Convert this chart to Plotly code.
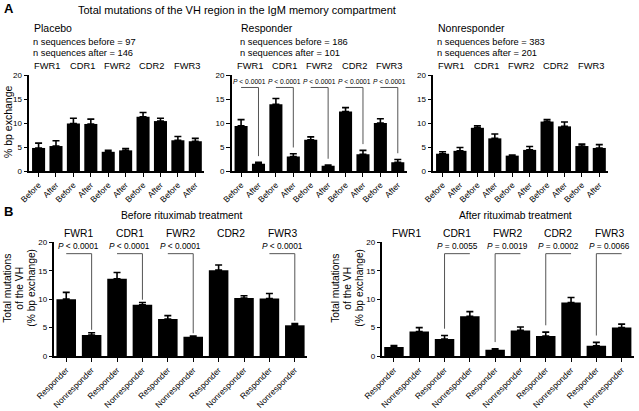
import plotly.graph_objects as go

# ---------------- data ----------------
regions = ["FWR1", "CDR1", "FWR2", "CDR2", "FWR3"]
a_ticks = ["Before", "After"] * 5
b_ticks = ["Responder", "Nonresponder"] * 5

placebo_mean = [4.8, 5.2, 9.9, 9.8, 4.0, 4.3, 11.3, 10.4, 6.4, 6.2]
placebo_err = [1.0, 1.1, 1.1, 1.0, 0.3, 0.4, 0.9, 0.6, 0.8, 0.6]
responder_mean = [9.4, 1.5, 13.9, 3.0, 6.5, 1.1, 12.4, 3.5, 10.0, 1.8]
responder_err = [1.3, 0.3, 1.2, 0.6, 0.6, 0.15, 0.8, 0.8, 0.9, 0.6]
nonresp_mean = [3.6, 4.2, 9.0, 6.8, 3.2, 4.4, 10.3, 9.3, 5.2, 4.8]
nonresp_err = [0.4, 0.7, 0.4, 0.9, 0.1, 0.7, 0.4, 0.9, 0.4, 0.7]

before_mean = [10.0, 3.7, 13.6, 9.0, 6.5, 3.4, 15.1, 10.2, 10.1, 5.4]
before_err = [1.2, 0.4, 1.1, 0.4, 0.6, 0.1, 0.9, 0.4, 0.9, 0.3]
after_mean = [1.6, 4.3, 3.0, 7.0, 1.1, 4.5, 3.5, 9.4, 1.8, 5.0]
after_err = [0.25, 0.7, 0.6, 0.8, 0.15, 0.6, 0.7, 0.9, 0.6, 0.6]

resp_pvals = ["< 0.0001"] * 5
before_pvals = ["< 0.0001", "< 0.0001", "< 0.0001", None, "< 0.0001"]
after_pvals = [None, "= 0.0055", "= 0.0019", "= 0.0002", "= 0.0066"]

n_before = {"Placebo": 97, "Responder": 186, "Nonresponder": 383}
n_after = {"Placebo": 146, "Responder": 101, "Nonresponder": 201}

b_ytitle_lines = ["Total mutations", "of the VH", "(% bp exchange)"]

# ---------------- layout helpers ----------------
W, H = 639, 411
FONT = "Liberation Sans, Arial, sans-serif"


def px(x):
    return x / W


def py(y):
    return 1 - y / H


panels = [
    # name, means, errs, ticks, xdom(px), ydom(px), xrange, barwidth
    ("Placebo", placebo_mean, placebo_err, a_ticks, (29, 204), (75, 171), [-0.55, 9.5], 0.75),
    ("Responder", responder_mean, responder_err, a_ticks, (231.5, 406.5), (75, 171), [-0.55, 9.5], 0.75),
    ("Nonresponder", nonresp_mean, nonresp_err, a_ticks, (433, 608), (75, 171), [-0.55, 9.5], 0.75),
    ("Before", before_mean, before_err, b_ticks, (54.3, 307), (242.3, 356), [-0.47, 9.48], 0.77),
    ("After", after_mean, after_err, b_ticks, (382.3, 634.3), (242.3, 356), [-0.46, 9.5], 0.77),
]

fig = go.Figure()
layout = dict(
    width=W, height=H, autosize=False,
    margin=dict(l=0, r=0, t=0, b=0, pad=0),
    paper_bgcolor="white", plot_bgcolor="white",
    showlegend=False, font=dict(family=FONT, color="black"),
)
annotations = []
shapes = []

for i, (name, means, errs, ticks, xd, yd, xr, bw) in enumerate(panels):
    k = "" if i == 0 else str(i + 1)
    xs = list(range(len(means)))
    fig.add_trace(go.Bar(
        x=xs, y=means, width=bw, xaxis="x" + k, yaxis="y" + k,
        marker=dict(color="black", line=dict(width=0)),
        error_y=dict(type="data", array=errs, arrayminus=[0] * len(errs), symmetric=False,
                     color="black", thickness=1.6, width=3.5),
    ))
    tick_font = 8.3 if i < 3 else 8.4
    layout["xaxis" + k] = dict(
        domain=[px(xd[0]), px(xd[1])], range=xr, anchor="y" + k, automargin=False,
        tickmode="array", tickvals=xs, ticktext=ticks, tickangle=-45,
        tickfont=dict(size=tick_font, family=FONT, color="black"),
        showline=True, linecolor="black", linewidth=2,
        ticks="outside", ticklen=4, tickwidth=1.3, tickcolor="black",
        showgrid=False, zeroline=False, fixedrange=True,
    )
    layout["yaxis" + k] = dict(
        domain=[py(yd[1]), py(yd[0])], range=[0, 20], anchor="x" + k, automargin=False,
        tickmode="array", tickvals=[0, 5, 10, 15, 20],
        tickfont=dict(size=8, family=FONT, color="black"),
        showline=True, linecolor="black", linewidth=2,
        ticks="outside", ticklen=3.5, tickwidth=1.3, tickcolor="black",
        showgrid=False, zeroline=False, fixedrange=True,
    )
    # region labels above each pair
    for r, reg in enumerate(regions):
        annotations.append(dict(
            x=2 * r + 0.5, y=py(66 if i < 3 else 233), xref="x" + k, yref="paper",
            text=reg, showarrow=False, xanchor="center", yanchor="middle",
            font=dict(size=9.3 if i < 3 else 10.3, family=FONT),
        ))

# ---------------- brackets with P values ----------------
def add_brackets(k, means, errs, pvals, line_y, text_y, gap, vert_side, psize):
    for r, p in enumerate(pvals):
        if p is None:
            continue
        a, b = 2 * r, 2 * r + 1
        v = b if vert_side == "right" else a
        bottom = means[v] + errs[v] + gap
        shapes.append(dict(type="line", xref="x" + k, yref="y" + k, x0=a, x1=b, y0=line_y, y1=line_y,
                           line=dict(color="#555555", width=1)))
        shapes.append(dict(type="line", xref="x" + k, yref="y" + k, x0=v, x1=v, y0=line_y, y1=bottom,
                           line=dict(color="#555555", width=1)))
        annotations.append(dict(x=(a + b) / 2, y=text_y, xref="x" + k, yref="y" + k,
                                text="<i>P</i> " + p, showarrow=False, xanchor="center", yanchor="bottom",
                                font=dict(size=psize, family=FONT)))


add_brackets("2", responder_mean, responder_err, resp_pvals, 17.4, 17.5, 1.3, "right", 6.7)
add_brackets("4", before_mean, before_err, before_pvals, 18.0, 18.2, 0.5, "right", 8.3)
add_brackets("5", after_mean, after_err, after_pvals, 18.0, 18.2, 1.2, "left", 8.3)

# ---------------- titles and texts ----------------
def txt(x, y, s, size, xanchor="left", bold=False, angle=0, yanchor="middle"):
    annotations.append(dict(x=px(x), y=py(y), xref="paper", yref="paper", text=("<b>%s</b>" % s) if bold else s,
                            showarrow=False, xanchor=xanchor, yanchor=yanchor, textangle=angle,
                            font=dict(size=size, family=FONT)))


txt(2, 9, "A", 13, bold=True)
txt(2, 211, "B", 13, bold=True)
txt(237, 10, "Total mutations of the VH region in the IgM memory compartment", 11, xanchor="center")

for name, x0 in [("Placebo", 31), ("Responder", 238), ("Nonresponder", 435)]:
    txt(x0 + 1, 28, name, 10.5)
    txt(x0, 42, "n sequences before = %d" % n_before[name], 9.3)
    txt(x0, 52.5, "n sequences after = %d" % n_after[name], 9.3)

txt(181, 215, "Before rituximab treatment", 10.3, xanchor="center")
txt(515, 215, "After rituximab treatment", 10.3, xanchor="center")

txt(8, 122, "% bp exchange", 10.5, xanchor="center", angle=-90)
for axis_x in (54.3, 382.3):
    for j, line in enumerate(b_ytitle_lines):
        txt(axis_x - 47.5 + 12 * j, 288, line, 10.3, xanchor="center", angle=-90)

layout["annotations"] = annotations
layout["shapes"] = shapes
fig.update_layout(**layout)
fig.write_html("out.html", config={"displayModeBar": False},
               post_script="document.body.style.margin='0px';document.body.style.overflow='hidden';")
